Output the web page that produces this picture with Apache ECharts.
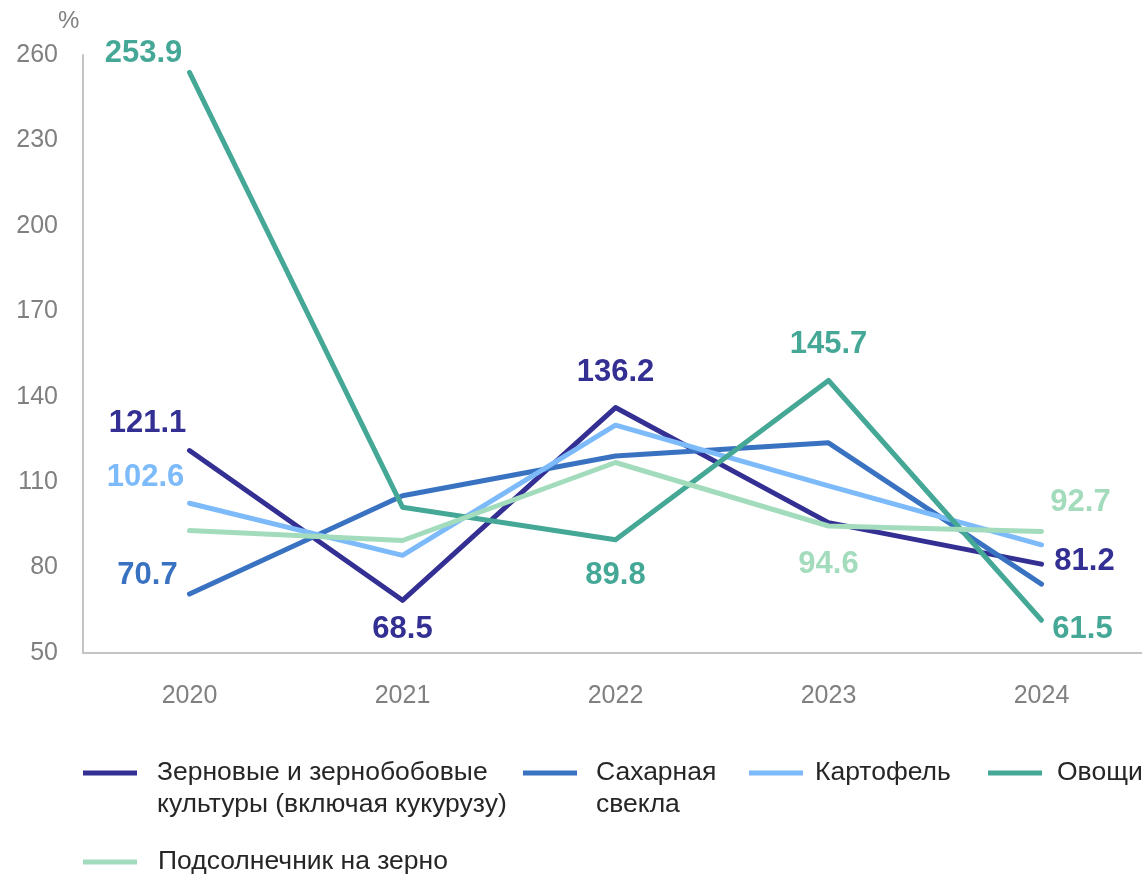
<!DOCTYPE html>
<html>
<head>
<meta charset="utf-8">
<title>chart</title>
<script src="https://cdn.jsdelivr.net/npm/echarts@6/dist/echarts.min.js"></script>
<style>
  html, body { margin: 0; padding: 0; background: #fff; }
  #chart { width: 1142px; height: 876px; }
</style>
</head>
<body>
<div id="chart"></div>
<script>
// data
var years = ['2020', '2021', '2022', '2023', '2024']
var yMin = 50
var yMax = 260
var yStep = 30

var grain = [121.1, 68.5, 136.2, 95.8, 81.2]
var sugarBeet = [70.7, 105.2, 119.2, 123.8, 74.2]
var potato = [102.6, 84.3, 130.0, 108.7, 88.0]
var vegetables = [253.9, 101.2, 89.8, 145.7, 61.5]
var sunflower = [93.0, 89.5, 116.9, 94.6, 92.7]

var names = [
  'Зерновые и зернобобовые культуры (включая кукурузу)',
  'Сахарная свекла',
  'Картофель',
  'Овощи',
  'Подсолнечник на зерно'
]
var legendLines = [
  ['Зерновые и зернобобовые', 'культуры (включая кукурузу)'],
  ['Сахарная', 'свекла'],
  ['Картофель'],
  ['Овощи'],
  ['Подсолнечник на зерно']
]

var colors = ['#332f93', '#3a72c2', '#7dbafa', '#45a896', '#a3dcbc']
var font = 'Liberation Sans, Arial, sans-serif'

// which points get a value label, and where it sits relative to the point
var labelOffsets = [
  { 0: [-42, -27], 1: [0, 29], 2: [0, -35], 4: [43, -3] },
  { 0: [-42, -19] },
  { 0: [-44, -26] },
  { 0: [-46, -19], 2: [0, 36], 3: [0, -36], 4: [41, 9] },
  { 3: [0, 38], 4: [39, -29] }
]

function makeData(values, offsets) {
  return values.map(function(v, i) {
    if (!offsets[i]) return v
    return { value: v, label: { show: true, offset: offsets[i] } }
  })
}

function makeSeries(idx, values) {
  return {
    name: names[idx],
    type: 'line',
    symbol: 'circle',
    symbolSize: 0.1,
    showSymbol: true,
    showAllSymbol: true,
    data: makeData(values, labelOffsets[idx]),
    lineStyle: { color: colors[idx], width: 5, cap: 'round', join: 'round' },
    itemStyle: { color: colors[idx] },
    label: {
      show: false,
      position: 'inside',
      color: colors[idx],
      fontSize: 31,
      fontWeight: 'bold',
      fontFamily: font
    },
    emphasis: { disabled: true }
  }
}

// legend items: [iconLeft, iconCenterY, gap icon->text]
var legendPos = [
  [83, 773, 15],
  [523, 773, 14],
  [749, 773, 7],
  [988, 773, 10],
  [83, 862, 16]
]
var lineH = 32

var legends = legendPos.map(function(p, i) {
  var lines = legendLines[i].slice()
  // keep the icon level with the first line of text
  for (var k = 1; k < legendLines[i].length; k++) lines.unshift('')
  var boxH = lineH * lines.length
  return {
    data: [names[i]],
    left: p[0],
    top: p[1] - boxH / 2,
    padding: 0,
    icon: 'rect',
    itemWidth: 54,
    itemHeight: 5,
    formatter: function() { return lines.join('\n') },
    textStyle: {
      color: '#262626',
      fontSize: 26.5,
      fontFamily: font,
      lineHeight: lineH,
      padding: [0, 0, 0, p[2]]
    },
    selectedMode: false
  }
})

var chart = echarts.init(document.getElementById('chart'))
chart.setOption({
  animation: false,
  title: {
    text: '%',
    left: 58,
    top: 9,
    padding: 0,
    textStyle: { color: '#808080', fontSize: 24, fontWeight: 'normal', fontFamily: font }
  },
  legend: legends,
  grid: {
    left: 83,
    right: -6,
    top: 55,
    bottom: 223,
    containLabel: false,
    outerBoundsMode: 'none'
  },
  xAxis: {
    type: 'category',
    data: years,
    boundaryGap: true,
    axisLine: { lineStyle: { color: '#c4c4c4', width: 2 } },
    axisTick: { show: false },
    axisLabel: { color: '#808080', fontSize: 25, fontFamily: font, margin: 31 }
  },
  yAxis: {
    type: 'value',
    min: yMin,
    max: yMax,
    interval: yStep,
    axisLine: { show: true, lineStyle: { color: '#c4c4c4', width: 2 } },
    axisTick: { show: false },
    splitLine: { show: false },
    axisLabel: { color: '#808080', fontSize: 25, fontFamily: font, margin: 25 }
  },
  series: [
    makeSeries(0, grain),
    makeSeries(1, sugarBeet),
    makeSeries(2, potato),
    makeSeries(3, vegetables),
    makeSeries(4, sunflower)
  ]
})
</script>
</body>
</html>
